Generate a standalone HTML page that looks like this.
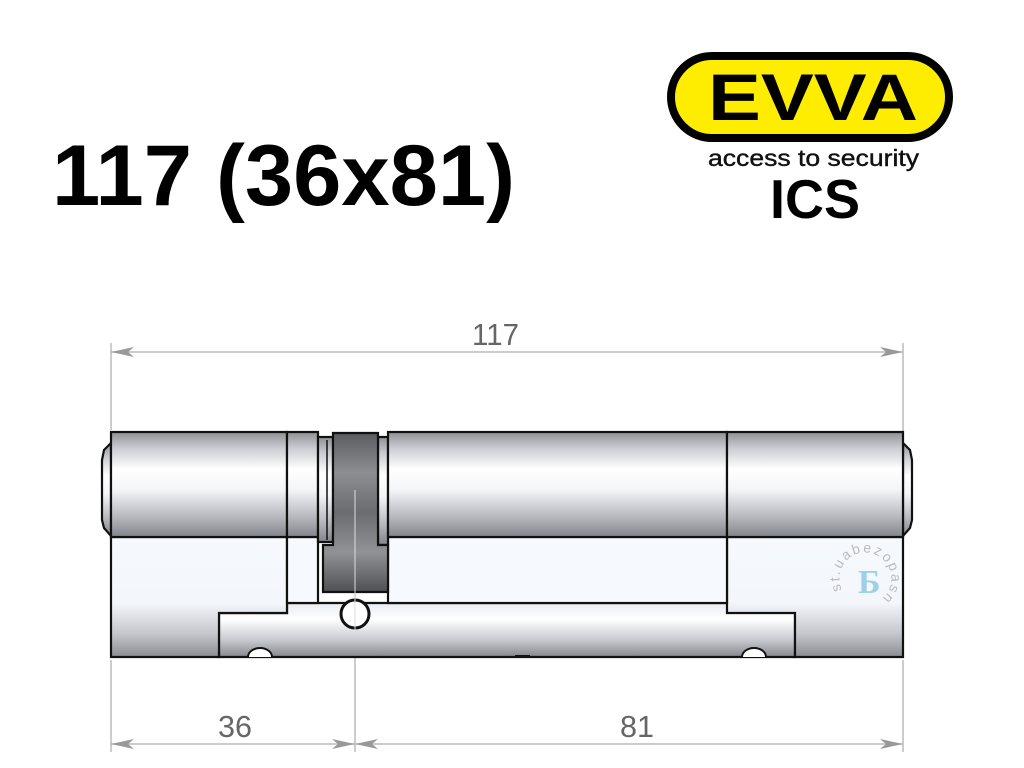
<!DOCTYPE html>
<html><head><meta charset="utf-8"><style>
html,body{margin:0;padding:0;background:#fff;}
svg{display:block;}
</style></head><body>
<svg width="1024" height="768" viewBox="0 0 1024 768" xmlns="http://www.w3.org/2000/svg">
<defs>
<linearGradient id="cyl" x1="0" y1="0" x2="0" y2="1">
<stop offset="0" stop-color="#8e9096"/><stop offset="0.15" stop-color="#c9cbd0"/><stop offset="0.35" stop-color="#ffffff"/><stop offset="0.55" stop-color="#f4f5f8"/><stop offset="0.8" stop-color="#b8bac0"/><stop offset="1" stop-color="#83858c"/>
</linearGradient>
<linearGradient id="low" x1="0" y1="0" x2="0" y2="1">
<stop offset="0" stop-color="#f6f9fd"/><stop offset="0.55" stop-color="#f3f6fb"/><stop offset="0.8" stop-color="#c6c8ce"/><stop offset="1" stop-color="#8a8c92"/>
</linearGradient>
<linearGradient id="bar" x1="0" y1="0" x2="0" y2="1">
<stop offset="0" stop-color="#e9ecf1"/><stop offset="0.3" stop-color="#ffffff"/><stop offset="0.7" stop-color="#c5c7cd"/><stop offset="1" stop-color="#85878d"/>
</linearGradient>
<linearGradient id="cam" x1="0" y1="0" x2="0" y2="1">
<stop offset="0" stop-color="#5a5c60"/><stop offset="0.25" stop-color="#8c8e92"/><stop offset="0.5" stop-color="#6a6c70"/><stop offset="0.75" stop-color="#909296"/><stop offset="1" stop-color="#4e5054"/>
</linearGradient>
<path id="wm" d="M842,590 A26,26 0 1 1 880,600"/>
</defs>

<!-- Title -->
<text x="52" y="205" font-family="Liberation Sans, sans-serif" font-weight="bold" font-size="86" textLength="463" lengthAdjust="spacingAndGlyphs">117 (36x81)</text>

<!-- Logo -->
<rect x="671" y="56" width="278" height="82" rx="41" fill="#ffed00" stroke="#000" stroke-width="8"/>
<text x="708" y="120" font-family="Liberation Sans, sans-serif" font-weight="bold" font-size="66" textLength="210" lengthAdjust="spacingAndGlyphs">EVVA</text>
<text x="708" y="166" font-family="Liberation Sans, sans-serif" font-size="23" textLength="211" lengthAdjust="spacingAndGlyphs" fill="#111" stroke="#111" stroke-width="0.4">access to security</text>
<text x="770" y="218" font-family="Liberation Sans, sans-serif" font-weight="bold" font-size="55" textLength="90" lengthAdjust="spacingAndGlyphs">ICS</text>

<!-- dimensions -->
<g stroke="#bbb" stroke-width="1.5" fill="none">
<line x1="111" y1="343" x2="111" y2="430"/>
<line x1="903" y1="343" x2="903" y2="445"/>
<line x1="111" y1="352" x2="903" y2="352"/>
<line x1="111" y1="660" x2="111" y2="752"/>
<line x1="903" y1="660" x2="903" y2="752"/>
<line x1="355" y1="590" x2="355" y2="752"/>
<line x1="111" y1="744" x2="903" y2="744"/>
</g>
<g fill="#999">
<polygon points="111,352 134,347 128,352 134,357"/>
<polygon points="903,352 880,347 886,352 880,357"/>
<polygon points="111,744 134,739 128,744 134,749"/>
<polygon points="355,744 332,739 338,744 332,749"/>
<polygon points="355,744 378,739 372,744 378,749"/>
<polygon points="903,744 880,739 886,744 880,749"/>
</g>
<g font-family="Liberation Sans, sans-serif" font-size="31" fill="#666">
<text x="472" y="345" textLength="47" lengthAdjust="spacingAndGlyphs">117</text>
<text x="218" y="737" textLength="34" lengthAdjust="spacingAndGlyphs">36</text>
<text x="620" y="737" textLength="34" lengthAdjust="spacingAndGlyphs">81</text>
</g>

<!-- Lock body -->
<g stroke="#111" stroke-width="2.2">
<path d="M111,443 L104,450 L102,460 L102,520 L104,528 L111,536 Z" fill="url(#cyl)"/>
<path d="M903,443 L910,450 L912,460 L912,520 L910,528 L903,536 Z" fill="url(#cyl)"/>
<path d="M219,613 L287,613 L287,603 L795,603 L795,657 L219,657 Z" fill="url(#bar)"/>
<path d="M111,537 L287,537 L287,613 L219,613 L219,657 L111,657 Z" fill="url(#low)"/>
<path d="M727,537 L903,537 L903,657 L795,657 L795,613 L727,613 Z" fill="url(#low)"/>
<rect x="287" y="537" width="31" height="66" fill="#f6f9fd"/>
<rect x="388" y="537" width="339" height="66" fill="#f6f9fd"/>
<rect x="111" y="432" width="176" height="105" fill="url(#cyl)"/>
<rect x="287" y="432" width="31" height="105" fill="url(#cyl)"/>
<rect x="318" y="437" width="15" height="105" fill="url(#cyl)"/>
<rect x="378" y="437" width="10" height="108" fill="url(#cyl)"/>
<rect x="388" y="432" width="339" height="105" fill="url(#cyl)"/>
<rect x="727" y="432" width="176" height="105" fill="url(#cyl)"/>
<path d="M333,433 L378,433 L378,545 L388,545 L388,592 L323,592 L323,545 L333,545 Z" fill="url(#cam)"/>
<circle cx="355" cy="614" r="14" fill="#fff" stroke-width="3"/>
</g>
<line x1="327" y1="440" x2="327" y2="540" stroke="#111" stroke-width="1.5"/>
<g fill="#fff" stroke="#111" stroke-width="2">
<path d="M248,657 A12,9 0 0 1 272,657"/>
<path d="M742,657 A12,9 0 0 1 766,657"/>
</g>
<line x1="515" y1="656" x2="530" y2="656" stroke="#111" stroke-width="2"/>
<line x1="355" y1="490" x2="355" y2="630" stroke="#ddd" stroke-width="1"/>

<!-- watermark -->
<text x="858" y="593" font-family="Liberation Serif, serif" font-weight="bold" font-size="34" fill="#9ed0e6">Б</text>
<text font-family="Liberation Sans, sans-serif" font-size="14" fill="#bbb" letter-spacing="2"><textPath href="#wm">st.uabezopasnosousе</textPath></text>
</svg>
</body></html>
